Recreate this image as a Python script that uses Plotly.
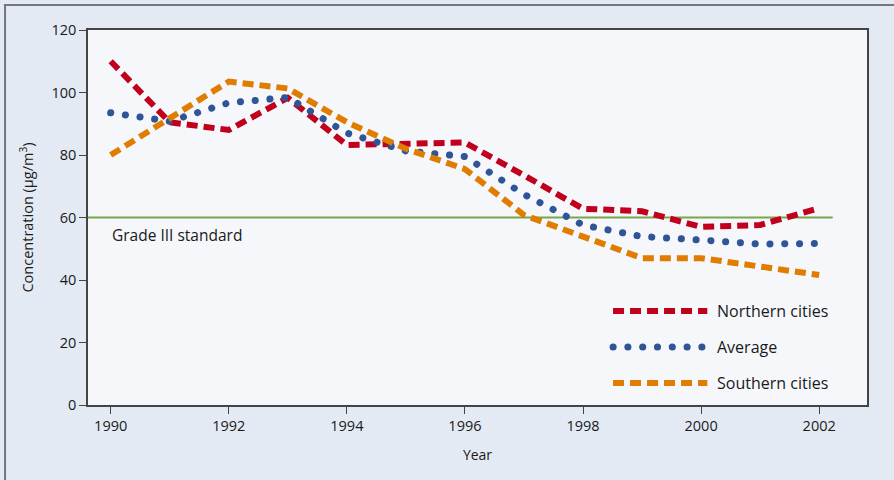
import plotly.graph_objects as go

years = [1990, 1991, 1992, 1993, 1994, 1995, 1996, 1997, 1998, 1999, 2000, 2001, 2002]
northern = [110, 90.5, 88, 98.3, 83.2, 83.5, 84, 73.5, 62.8, 62, 57, 57.6, 63]
average = [93.5, 90.8, 96.7, 98.4, 87, 81.3, 79.5, 67.4, 57.6, 53.9, 52.8, 51.5, 51.7]
southern = [80, 91.5, 103.5, 101.3, 90.5, 82, 75.5, 60.8, 54, 47, 47, 44.5, 41.6]
standard_value = 60
x_ticks = [1990, 1992, 1994, 1996, 1998, 2000, 2002]
y_ticks = [0, 20, 40, 60, 80, 100, 120]

RED = "#c0001d"
BLUE = "#2f5597"
ORANGE = "#e07c00"
GREEN = "#76a84a"
FONT = "Open Sans"
TXT = "#1a1a1a"

fig = go.Figure()
fig.add_trace(go.Scatter(x=years, y=northern, mode="lines", name="Northern cities",
                         line=dict(color=RED, width=6, dash="11px,6px"), showlegend=False))
fig.add_trace(go.Scatter(x=years, y=average, mode="lines", name="Average",
                         line=dict(color=BLUE, width=7, dash="0.1px,14.7px"), showlegend=False))
fig.add_trace(go.Scatter(x=years, y=southern, mode="lines", name="Southern cities",
                         line=dict(color=ORANGE, width=6, dash="11px,6px"), showlegend=False))

# standard line
fig.add_shape(type="line", xref="paper", yref="y", x0=0, x1=0.956, y0=standard_value, y1=standard_value,
              line=dict(color=GREEN, width=2), layer="below")
fig.add_annotation(x=0.028, xref="paper", y=standard_value, yref="y", yshift=-17,
                   text="Grade III standard", showarrow=False, xanchor="left",
                   font=dict(family=FONT, size=15.5, color=TXT))

# custom legend
legend_items = [("Northern cities", RED, "11px,6px", 6), ("Average", BLUE, "0.1px,14.7px", 7),
                ("Southern cities", ORANGE, "11px,6px", 6)]
x0, x1 = 0.674, 0.795
ys = [0.2507, 0.1547, 0.0587]
for (name, col, dash, w), yy in zip(legend_items, ys):
    fig.add_shape(type="line", xref="paper", yref="paper", x0=x0, x1=x1, y0=yy, y1=yy,
                  line=dict(color=col, width=w, dash=dash))
    fig.add_annotation(xref="paper", yref="paper", x=x1 + 0.01, y=yy, text=name,
                       showarrow=False, xanchor="left", yanchor="middle",
                       font=dict(family=FONT, size=16, color=TXT))

# outer frame (top and left)
fig.add_shape(type="line", xref="paper", yref="paper", x0=-0.108, x1=1.04, y0=1.0667, y1=1.0667,
              line=dict(color="#777777", width=2))
fig.add_shape(type="line", xref="paper", yref="paper", x0=-0.1065, x1=-0.1065, y0=-0.2, y1=1.068,
              line=dict(color="#777777", width=2))

fig.update_layout(
    width=894, height=480,
    margin=dict(l=88, r=27, t=30, b=75),
    paper_bgcolor="#e4eaf4",
    plot_bgcolor="#f5f7fb",
    font=dict(family=FONT, size=14, color=TXT),
    xaxis=dict(range=[1989.616, 2002.81], tickvals=x_ticks, ticks="outside", ticklen=7,
               tickcolor="#444", showgrid=False, zeroline=False, showline=True,
               linecolor="#444", linewidth=1.5, mirror=True,
               title=dict(text="Year", font=dict(size=14), standoff=16),
               tickfont=dict(size=14.5)),
    yaxis=dict(range=[0, 120], tickvals=y_ticks, ticks="outside", ticklen=7,
               tickcolor="#444", showgrid=False, zeroline=False, showline=True,
               linecolor="#444", linewidth=1.5, mirror=True,
               title=dict(text="Concentration (µg/m<sup>3</sup>)", font=dict(size=14.5), standoff=14),
               tickfont=dict(size=14.5)),
)

post = """
document.body.style.margin='0';
var st=document.createElement('style');
st.innerHTML='body{margin:0;} .scatterlayer .trace:nth-child(2) .js-line{stroke-linecap:round;}';
document.head.appendChild(st);
var gd=document.getElementsByClassName('plotly-graph-div')[0];
function fix(){var ps=gd.querySelectorAll('.shapelayer path');
 ps.forEach(function(p){ if((p.getAttribute('style')||'').indexOf('stroke-dasharray: 0.1px')>=0){p.style.strokeLinecap='round';}});}
fix(); gd.on && gd.on('plotly_afterplot', fix);
"""
fig.write_html("out.html", post_script=post, config={"displayModeBar": False})
